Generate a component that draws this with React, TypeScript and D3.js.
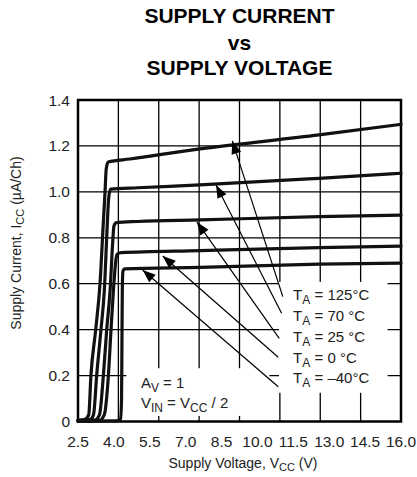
import React from 'react';
import * as d3 from 'd3';

// ---- data ----
const titleLines = ['SUPPLY CURRENT', 'vs', 'SUPPLY VOLTAGE'];
const voltageTicks = [2.5, 4.0, 5.5, 7.0, 8.5, 10.0, 11.5, 13.0, 14.5, 16.0];
const currentTicks = [0, 0.2, 0.4, 0.6, 0.8, 1.0, 1.2, 1.4];
const voltageDomain = [2.5, 16];
const currentDomain = [0, 1.4];
const verticalGridDivisions = 8;

const temperatureLabels = ['125°C', '70 °C', '25 °C', '0 °C', '–40°C'];

const curve125: [number, number][] = [[2.5,0.005],[2.8,0.01],[2.95,0.03],[3.04,0.2],[3.24,0.4],[3.42,0.6],[3.55,0.85],[3.63,1.0],[3.68,1.1],[3.76,1.13],[4.67,1.143],[7.6,1.187],[12.57,1.248],[16,1.294]];
const curve70: [number, number][] = [[2.5,0.004],[3.0,0.008],[3.15,0.03],[3.28,0.2],[3.46,0.4],[3.6,0.57],[3.72,0.85],[3.78,0.97],[3.86,1.012],[5.0,1.018],[7.6,1.03],[12.57,1.059],[16,1.081]];
const curve25: [number, number][] = [[2.5,0.003],[3.2,0.006],[3.4,0.03],[3.56,0.2],[3.7,0.4],[3.84,0.57],[3.95,0.78],[4.0,0.85],[4.1,0.866],[5.0,0.871],[7.6,0.878],[12.57,0.892],[16,0.899]];
const curve0: [number, number][] = [[2.5,0.003],[3.4,0.005],[3.6,0.03],[3.77,0.2],[3.88,0.4],[3.98,0.57],[4.08,0.7],[4.14,0.728],[4.3,0.735],[7.6,0.744],[12.57,0.757],[16,0.764]];
const curveMinus40: [number, number][] = [[2.5,0.002],[4.1,0.003],[4.28,0.01],[4.32,0.1],[4.34,0.4],[4.355,0.6],[4.38,0.655],[4.45,0.665],[7.6,0.671],[12.57,0.685],[16,0.69]];
const curves = [curve125, curve70, curve25, curve0, curveMinus40];

// arrow tips (on curves) and tails (at legend), in data units
const arrowTips: [number, number][] = [[8.95,1.222],[8.27,1.03],[7.47,0.869],[6.04,0.721],[5.2,0.66]];
const arrowTails: [number, number][] = [[11.06,0.5435],[11.01,0.471],[10.91,0.362],[10.87,0.28],[10.87,0.1516]];
// legend text anchor (left, baseline) in data units
const legendX = 11.49;
const legendBaselines = [0.529, 0.439, 0.3475, 0.256, 0.166];
// white legend box [v0, v1, i0, i1]
const legendBox = [10.9, 15.44, 0.125, 0.608];
// conditions text
const conditionX = 5.13;
const conditionBaselines = [0.148, 0.059];
const conditionBox = [4.52, 10.5, 0.024, 0.232];

// ---- layout ----
const W = 417, H = 477;
const M = { left: 78, right: 401, top: 100, bottom: 421.5 };
const FONT = 'Arial, "Liberation Sans", Helvetica, sans-serif';

export default function App() {
  const x = d3.scaleLinear().domain(voltageDomain).range([M.left, M.right]);
  const y = d3.scaleLinear().domain(currentDomain).range([M.bottom, M.top]);
  const gridV = d3.range(1, verticalGridDivisions).map(
    k => voltageDomain[0] + (k * (voltageDomain[1] - voltageDomain[0])) / verticalGridDivisions
  );
  const gridH = currentTicks.slice(1, -1);
  const line = d3.line<[number, number]>().x(d => x(d[0])).y(d => y(d[1])).curve(d3.curveMonotoneX);

  const arrowHead = (tip: [number, number], tail: [number, number]) => {
    const tx = x(tip[0]), ty = y(tip[1]);
    const sx = x(tail[0]), sy = y(tail[1]);
    const dx = sx - tx, dy = sy - ty;
    const len = Math.hypot(dx, dy);
    const ux = dx / len, uy = dy / len;
    const L = 13, Wd = 5;
    const bx = tx + ux * L, by = ty + uy * L;
    return `M${tx},${ty}L${bx - uy * Wd},${by + ux * Wd}L${bx + uy * Wd},${by - ux * Wd}Z`;
  };

  const cx = (M.left + M.right) / 2;

  return (
    <svg width={W} height={H} style={{ position: 'absolute', left: 0, top: 0, background: '#fff' }} fontFamily={FONT}>
      <rect width={W} height={H} fill="#fff" />
      {/* title */}
      {titleLines.map((t, i) => (
        <text key={t} x={cx} y={[22.5, 50, 75][i]} textAnchor="middle" fontWeight="bold" fontSize={21} fill="#000">{t}</text>
      ))}
      {/* grid */}
      {gridV.map(v => (
        <line key={'gv' + v} x1={x(v)} x2={x(v)} y1={M.top} y2={M.bottom} stroke="#000" strokeWidth={1.3} />
      ))}
      {gridH.map(v => (
        <line key={'gh' + v} x1={M.left} x2={M.right} y1={y(v)} y2={y(v)} stroke="#000" strokeWidth={1.3} />
      ))}
      {/* white boxes behind texts */}
      <rect x={x(legendBox[0])} y={y(legendBox[3])} width={x(legendBox[1]) - x(legendBox[0])} height={y(legendBox[2]) - y(legendBox[3])} fill="#fff" />
      <rect x={x(conditionBox[0])} y={y(conditionBox[3])} width={x(conditionBox[1]) - x(conditionBox[0])} height={y(conditionBox[2]) - y(conditionBox[3])} fill="#fff" />
      {/* frame */}
      <rect x={M.left} y={M.top} width={M.right - M.left} height={M.bottom - M.top} fill="none" stroke="#000" strokeWidth={2.5} />
      {/* curves */}
      {curves.map((c, i) => (
        <path key={'c' + i} d={line(c) || ''} fill="none" stroke="#111" strokeWidth={3.2} strokeLinejoin="round" strokeLinecap="round" />
      ))}
      {/* arrows */}
      {arrowTips.map((tip, i) => (
        <g key={'a' + i}>
          <line x1={x(tip[0])} y1={y(tip[1])} x2={x(arrowTails[i][0])} y2={y(arrowTails[i][1])} stroke="#000" strokeWidth={1.2} />
          <path d={arrowHead(tip, arrowTails[i])} fill="#000" />
        </g>
      ))}
      {/* legend texts */}
      {temperatureLabels.map((t, i) => (
        <text key={'l' + i} x={x(legendX)} y={y(legendBaselines[i])} fontSize={15} fill="#222">
          T<tspan fontSize={12} dy={4}>A</tspan><tspan dy={-4}>{' = ' + t}</tspan>
        </text>
      ))}
      {/* conditions */}
      <text x={x(conditionX)} y={y(conditionBaselines[0])} fontSize={15} fill="#222">
        A<tspan fontSize={12} dy={4}>V</tspan><tspan dy={-4}> = 1</tspan>
      </text>
      <text x={x(conditionX)} y={y(conditionBaselines[1])} fontSize={15} fill="#222">
        V<tspan fontSize={12} dy={4}>IN</tspan><tspan dy={-4}> = V</tspan><tspan fontSize={12} dy={4}>CC</tspan><tspan dy={-4}> / 2</tspan>
      </text>
      {/* x tick labels */}
      {voltageTicks.map(v => (
        <text key={'xt' + v} x={x(v)} y={446.5} textAnchor="middle" fontSize={15.5} fill="#222">{v.toFixed(1)}</text>
      ))}
      {/* y tick labels */}
      {currentTicks.map(v => (
        <text key={'yt' + v} x={M.left - 8} y={y(v) + 5.5} textAnchor="end" fontSize={15.5} fill="#222">{v === 0 ? '0' : v.toFixed(1)}</text>
      ))}
      {/* axis titles */}
      <text x={243} y={468} textAnchor="middle" fontSize={14} fill="#222">
        Supply Voltage, V<tspan fontSize={11} dy={3}>CC</tspan><tspan dy={-3}> (V)</tspan>
      </text>
      <text transform={`translate(21,243) rotate(-90)`} textAnchor="middle" fontSize={14} fill="#222">
        Supply Current, I<tspan fontSize={11} dy={3}>CC</tspan><tspan dy={-3}> (µA/Ch)</tspan>
      </text>
    </svg>
  );
}
